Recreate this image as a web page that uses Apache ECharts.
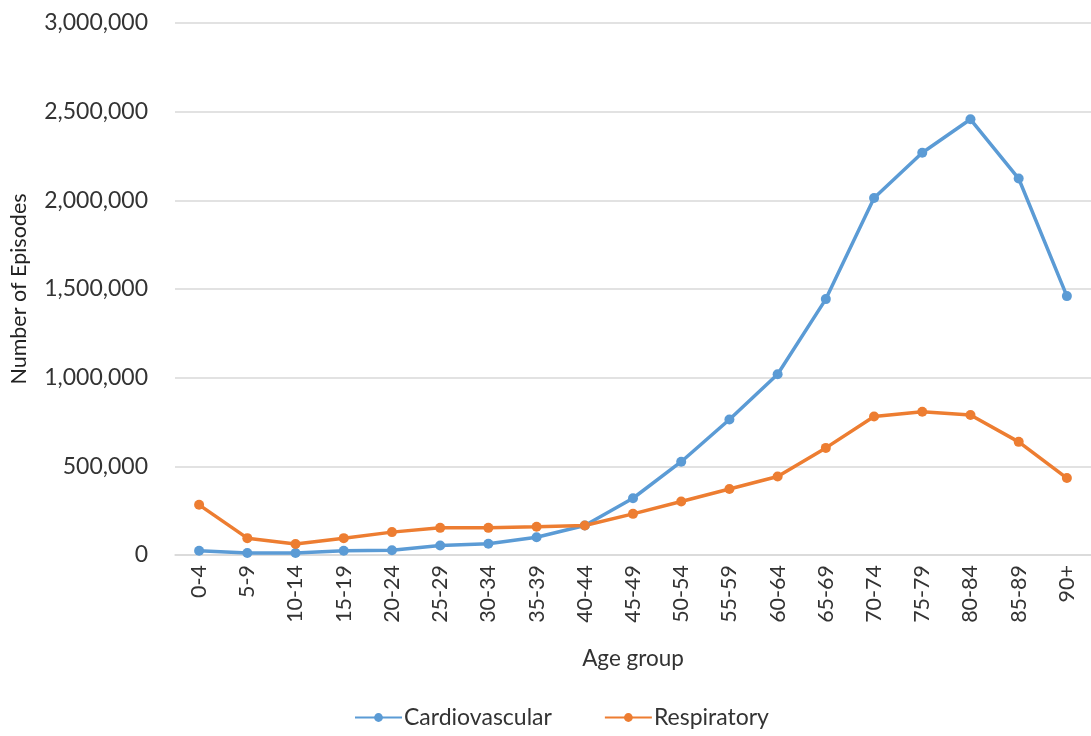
<!DOCTYPE html>
<html><head><meta charset="utf-8">
<script src="https://cdn.jsdelivr.net/npm/echarts@6/dist/echarts.min.js"></script>
<style>html,body{margin:0;padding:0;background:#fff}#c{width:1091px;height:736px}</style>
</head><body><div id="c"></div>
<script>
const categories = ['0-4','5-9','10-14','15-19','20-24','25-29','30-34','35-39','40-44','45-49','50-54','55-59','60-64','65-69','70-74','75-79','80-84','85-89','90+'];
const cardiovascular = [24000,11000,11000,24000,27000,54000,63000,100000,166000,320000,526000,764000,1019000,1443000,2013000,2268000,2457000,2123000,1460000];
const respiratory = [283000,95000,62000,95000,129000,153000,153000,159000,166000,232000,302000,372000,443000,604000,781000,808000,789000,638000,434000];
const yTicks = {min:0, max:3000000, interval:500000};

const FONT = 'Lato';
const chart = echarts.init(document.getElementById('c'), null, {renderer:'canvas'});
chart.setOption({
  animation:false,
  textStyle:{fontFamily:FONT},
  grid:{left:175, right:-8, top:23, bottom:181, containLabel:false},
  legend:{
    left:354, top:706, padding:0, itemWidth:47, itemHeight:11, itemGap:52,
    textStyle:{fontFamily:FONT, fontSize:23, color:'#333', padding:[0,0,0,-3]},
    data:['Cardiovascular','Respiratory']
  },
  xAxis:{
    type:'category', data:categories, boundaryGap:true,
    name:'Age group', nameLocation:'middle', nameGap:92,
    nameTextStyle:{fontFamily:FONT, fontSize:22.5, color:'#333'},
    axisLine:{lineStyle:{color:'#d9d9d9', width:1.5}},
    axisTick:{show:false},
    axisLabel:{rotate:90, interval:0, margin:10, fontFamily:FONT, fontSize:21.5, color:'#333'}
  },
  yAxis:{
    type:'value', min:yTicks.min, max:yTicks.max, interval:yTicks.interval,
    name:'Number of Episodes', nameLocation:'middle', nameGap:145,
    nameTextStyle:{fontFamily:FONT, fontSize:21.5, color:'#222'},
    axisLine:{show:false}, axisTick:{show:false},
    splitLine:{lineStyle:{color:'#d9d9d9', width:1.5}},
    axisLabel:{margin:27, fontFamily:FONT, fontSize:23, color:'#333',
      formatter:v=>v.toLocaleString('en-US')}
  },
  series:[
    {name:'Cardiovascular', type:'line', data:cardiovascular, symbol:'circle', symbolSize:10,
     lineStyle:{color:'#5B9BD5', width:3.5}, itemStyle:{color:'#5B9BD5'}},
    {name:'Respiratory', type:'line', data:respiratory, symbol:'circle', symbolSize:10,
     lineStyle:{color:'#ED7D31', width:3.5}, itemStyle:{color:'#ED7D31'}}
  ]
});
</script></body></html>
